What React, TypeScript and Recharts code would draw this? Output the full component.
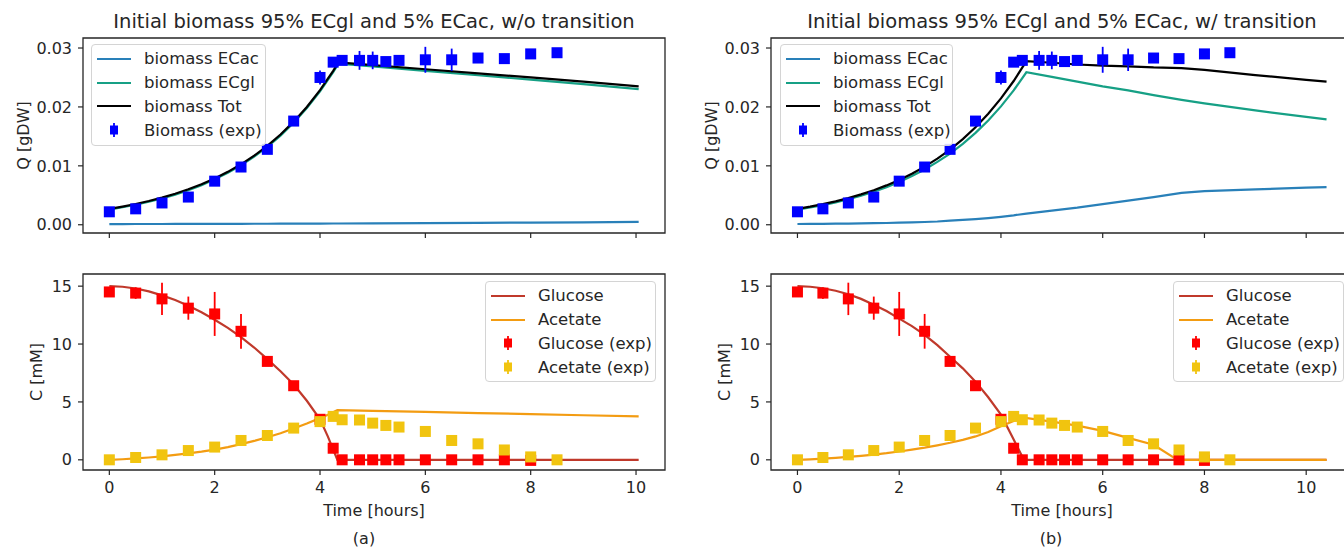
import React from "react";
import { ComposedChart, Line, Scatter, ErrorBar, XAxis, YAxis, ReferenceArea, Legend, Label } from "recharts";

const FONT = '"DejaVu Sans", sans-serif';
const INK = "#262626";

// measured points, same in (a) and (b)
const expTime = [0, 0.5, 1, 1.5, 2, 2.5, 3, 3.5, 4, 4.25, 4.42, 4.75, 5, 5.25, 5.5, 6, 6.5, 7, 7.5, 8, 8.5];
const biomassExp = [0.0022, 0.0027, 0.0037, 0.0047, 0.0074, 0.0098, 0.0128, 0.0176, 0.025, 0.0276, 0.0279, 0.0279, 0.0279, 0.0277, 0.0279, 0.028, 0.028, 0.0283, 0.0282, 0.029, 0.0292];
const biomassErr = [0.0003, 0.0003, 0.0003, 0.0003, 0.0003, 0.0003, 0.0003, 0.0003, 0.0012, 0.0003, 0.0003, 0.0016, 0.0015, 0.0003, 0.0003, 0.0022, 0.0019, 0.0003, 0.0003, 0.0003, 0.0003];
const glucoseExp = [14.5, 14.4, 13.9, 13.1, 12.6, 11.1, 8.5, 6.4, 3.5, 1.0, 0, 0, 0, 0, 0, 0, 0, 0, 0, -0.05, null];
const glucoseErr = [0.4, 0.5, 1.4, 1.0, 1.9, 1.5, 0.3, 0.3, 0.3, 0.2, 0.1, 0.1, 0.1, 0.1, 0.1, 0.1, 0.1, 0.1, 0.1, 0.1, 0];
const acetateExp = [0, 0.2, 0.43, 0.8, 1.1, 1.67, 2.1, 2.74, 3.3, 3.75, 3.46, 3.44, 3.17, 2.97, 2.83, 2.45, 1.67, 1.38, 0.85, 0.25, 0];
const acetateErr = [0.1, 0.1, 0.1, 0.15, 0.15, 0.15, 0.15, 0.15, 0.3, 0.2, 0.15, 0.15, 0.15, 0.15, 0.15, 0.2, 0.2, 0.2, 0.4, 0.2, 0.1];

// (a) w/o transition, biomass
const simTimeA = [0, 0.25, 0.5, 0.75, 1, 1.25, 1.5, 1.75, 2, 2.25, 2.5, 2.75, 3, 3.25, 3.5, 3.75, 4, 4.25, 4.35, 5, 6, 7, 8, 9, 10.05];
const ecacA = [0.00012, 0.00012, 0.00013, 0.00013, 0.00013, 0.00014, 0.00014, 0.00015, 0.00015, 0.00016, 0.00016, 0.00017, 0.00017, 0.00018, 0.00019, 0.00019, 0.0002, 0.00021, 0.00021, 0.00024, 0.00028, 0.00032, 0.00037, 0.00042, 0.00048];
const ecglA = [0.00258, 0.00297, 0.0034, 0.0039, 0.00448, 0.00512, 0.00588, 0.00672, 0.00771, 0.00882, 0.0101, 0.01156, 0.01323, 0.01513, 0.01731, 0.01981, 0.02266, 0.02591, 0.02734, 0.02686, 0.02612, 0.02538, 0.02463, 0.02388, 0.02302];
const totA = [0.0027, 0.00309, 0.00353, 0.00403, 0.00461, 0.00526, 0.00602, 0.00687, 0.00786, 0.00898, 0.01026, 0.01173, 0.0134, 0.01531, 0.0175, 0.02, 0.02286, 0.02612, 0.02755, 0.0271, 0.0264, 0.0257, 0.025, 0.0243, 0.0235];

// (b) w/ transition, biomass
const simTimeB = [0, 0.25, 0.5, 0.75, 1, 1.25, 1.5, 1.75, 2, 2.25, 2.5, 2.75, 3, 3.25, 3.5, 3.75, 4, 4.25, 4.5, 5, 5.5, 6, 6.5, 7, 7.55, 8, 9, 10, 10.4];
const ecacB = [0.00013, 0.00014, 0.00016, 0.00018, 0.0002, 0.00023, 0.00026, 0.0003, 0.00035, 0.0004, 0.00047, 0.00055, 0.0007, 0.00082, 0.00096, 0.00114, 0.00135, 0.0016, 0.0019, 0.0024, 0.0029, 0.0035, 0.0041, 0.0047, 0.0054, 0.0057, 0.006, 0.0063, 0.0064];
const ecglB = [0.00257, 0.00293, 0.00334, 0.0038, 0.00433, 0.00493, 0.00561, 0.00638, 0.00726, 0.00826, 0.00939, 0.01067, 0.01207, 0.01372, 0.01559, 0.0177, 0.02009, 0.0228, 0.02588, 0.0251, 0.0243, 0.0235, 0.0228, 0.022, 0.0212, 0.0206, 0.0194, 0.0183, 0.0179];
const totB = [0.0027, 0.00307, 0.0035, 0.00398, 0.00453, 0.00516, 0.00587, 0.00668, 0.00761, 0.00866, 0.00986, 0.01122, 0.01277, 0.01454, 0.01655, 0.01884, 0.02144, 0.0244, 0.02778, 0.0275, 0.0272, 0.027, 0.0269, 0.0267, 0.0266, 0.0263, 0.0254, 0.0246, 0.0243];

// (a) concentrations
const concTimeA = [0, 0.25, 0.5, 0.75, 1, 1.25, 1.5, 1.75, 2, 2.25, 2.5, 2.75, 3, 3.25, 3.5, 3.75, 4, 4.15, 4.33, 5, 6, 7, 8, 9, 10.05];
const glucoseA = [15, 14.95, 14.8, 14.55, 14.2, 13.8, 13.3, 12.75, 12.1, 11.4, 10.6, 9.7, 8.7, 7.65, 6.5, 5.1, 3.5, 2.0, 0, 0, 0, 0, 0, 0, 0];
const acetateA = [0, 0.05, 0.12, 0.2, 0.3, 0.42, 0.55, 0.7, 0.88, 1.1, 1.35, 1.63, 1.95, 2.3, 2.7, 3.13, 3.6, 3.9, 4.3, 4.23, 4.14, 4.04, 3.95, 3.85, 3.75];

// (b) concentrations
const concTimeB = [0, 0.25, 0.5, 0.75, 1, 1.25, 1.5, 1.75, 2, 2.25, 2.5, 2.75, 3, 3.25, 3.5, 3.75, 4, 4.25, 4.45, 5, 5.5, 6, 6.5, 7, 7.47, 8, 9, 10, 10.4];
const glucoseB = [15, 14.95, 14.82, 14.6, 14.3, 13.9, 13.4, 12.85, 12.2, 11.55, 10.8, 9.9, 8.9, 7.9, 6.75, 5.4, 3.9, 1.75, 0, 0, 0, 0, 0, 0, 0, 0, 0, 0, 0];
const acetateB = [0, 0.04, 0.1, 0.17, 0.25, 0.34, 0.45, 0.57, 0.72, 0.88, 1.05, 1.25, 1.47, 1.72, 2.02, 2.4, 2.9, 3.35, 3.65, 3.3, 2.95, 2.5, 1.9, 1.3, 0, 0, 0, 0, 0];

const xTicks = [0, 2, 4, 6, 8, 10];
const qTicks = [0, 0.01, 0.02, 0.03];
const cTicks = [0, 5, 10, 15];

const C = {
  ecac: "#2980b9",
  ecgl: "#16a085",
  tot: "#000000",
  biomass: "#0000ff",
  glucose: "#c0392b",
  acetate: "#f39c12",
  glucoseExp: "#ff0000",
  acetateExp: "#f1c40f",
};

const rows = (t: number[], cols: Record<string, number[]>) =>
  t.map((x, i) => {
    const r: any = { t: x };
    for (const k in cols) r[k] = cols[k][i];
    return r;
  });

const points = (v: (number | null)[], e: number[]) =>
  expTime.map((t, i) => ({ t, v: v[i], e: e[i] })).filter((p) => p.v !== null);

type LegendItem = { label: string; color: string; marker?: boolean };

const biomassLegend: LegendItem[] = [
  { label: "biomass ECac", color: C.ecac },
  { label: "biomass ECgl", color: C.ecgl },
  { label: "biomass Tot", color: C.tot },
  { label: "Biomass (exp)", color: C.biomass, marker: true },
];
const concLegend: LegendItem[] = [
  { label: "Glucose", color: C.glucose },
  { label: "Acetate", color: C.acetate },
  { label: "Glucose (exp)", color: C.glucoseExp, marker: true },
  { label: "Acetate (exp)", color: C.acetateExp, marker: true },
];

const LegendBox = ({ items }: { items: LegendItem[] }) => (
  <div
    style={{
      boxSizing: "border-box",
      width: "100%",
      height: "100%",
      border: "1px solid #d4d4d4",
      borderRadius: 4,
      background: "rgba(255,255,255,0.85)",
      padding: "2px 0 0 5px",
      fontFamily: FONT,
      fontSize: 16.5,
      color: INK,
      whiteSpace: "nowrap",
    }}
  >
    {items.map((it) => (
      <div key={it.label} style={{ display: "flex", alignItems: "center", height: 23.8 }}>
        <svg width={47} height={20} style={{ flex: "none" }}>
          {it.marker ? (
            <g>
              <line x1={17} x2={17} y1={3} y2={17} stroke={it.color} strokeWidth={1.8} />
              <rect x={13} y={5.5} width={8} height={9} fill={it.color} />
            </g>
          ) : (
            <line x1={0} x2={34} y1={10} y2={10} stroke={it.color} strokeWidth={2.2} />
          )}
        </svg>
        <span>{it.label}</span>
      </div>
    ))}
  </div>
);

type SeriesLine = { key: string; color: string };
type SeriesPts = { data: any[]; color: string };

type PanelProps = {
  left: number;
  top: number;
  height: number;
  marginTop: number;
  marginRight: number;
  yWidth: number;
  xHeight: number;
  xDomain: [number, number];
  yDomain: [number, number];
  yTicks: number[];
  yFmt: (v: number) => string;
  yLabel: string;
  yLabelX: number;
  xLabel?: string;
  table: any[];
  lines: SeriesLine[];
  pts: SeriesPts[];
  legend: LegendItem[];
  legendBox: { left: number; top: number; width: number; height: number };
};

const Panel = (p: PanelProps) => {
  const tickStyle = { fill: INK, fontSize: 16, fontFamily: FONT };
  return (
    <div style={{ position: "absolute", left: p.left, top: p.top }}>
      <ComposedChart
        width={690}
        height={p.height}
        data={p.table}
        margin={{ top: p.marginTop, right: p.marginRight, left: 0, bottom: 0 }}
      >
        <XAxis
          type="number"
          dataKey="t"
          domain={p.xDomain}
          ticks={xTicks}
          interval={0}
          allowDataOverflow
          axisLine={false}
          tickSize={5}
          tickMargin={7}
          tickLine={{ stroke: INK, strokeWidth: 1.2 }}
          tick={tickStyle}
          tickFormatter={p.xLabel ? (v: number) => String(v) : () => ""}
          height={p.xHeight}
        >
          {p.xLabel && (
            <Label
              value={p.xLabel}
              position="insideBottom"
              offset={33}
              style={{ fill: INK, fontSize: 16, fontFamily: FONT }}
            />
          )}
        </XAxis>
        <YAxis
          type="number"
          domain={p.yDomain}
          ticks={p.yTicks}
          interval={0}
          allowDataOverflow
          axisLine={false}
          width={p.yWidth}
          tickSize={5}
          tickMargin={6}
          tickLine={{ stroke: INK, strokeWidth: 1.2 }}
          tick={tickStyle}
          tickFormatter={p.yFmt}
        >
          <Label
            value={p.yLabel}
            angle={-90}
            position="insideLeft"
            offset={p.yLabelX}
            style={{ textAnchor: "middle", fill: INK, fontSize: 16, fontFamily: FONT }}
          />
        </YAxis>
        {p.lines.map((l) => (
          <Line
            key={l.key}
            type="linear"
            dataKey={l.key}
            stroke={l.color}
            strokeWidth={2.2}
            dot={false}
            activeDot={false}
            isAnimationActive={false}
          />
        ))}
        {p.pts.map((s, i) => (
          <Scatter
            key={i}
            data={s.data}
            dataKey="v"
            fill={s.color}
            isAnimationActive={false}
            shape={(sp: any) => (
              <rect x={sp.cx - 5.5} y={sp.cy - 5.5} width={11} height={11} fill={s.color} />
            )}
          >
            <ErrorBar dataKey="e" direction="y" width={0} stroke={s.color} strokeWidth={1.8} />
          </Scatter>
        ))}
        <ReferenceArea
          x1={p.xDomain[0]}
          x2={p.xDomain[1]}
          y1={p.yDomain[0]}
          y2={p.yDomain[1]}
          fill="none"
          fillOpacity={0}
          stroke={INK}
          strokeWidth={1.3}
        />
        <Legend
          layout="vertical"
          align="center"
          verticalAlign="middle"
          wrapperStyle={{ ...p.legendBox }}
          content={() => <LegendBox items={p.legend} />}
        />
      </ComposedChart>
    </div>
  );
};

const titleStyle = (left: number, width: number): React.CSSProperties => ({
  position: "absolute",
  left,
  width,
  top: 10,
  textAlign: "center",
  fontFamily: FONT,
  fontSize: 19.5,
  lineHeight: "24px",
  color: INK,
  whiteSpace: "nowrap",
});

const captionStyle = (cx: number): React.CSSProperties => ({
  position: "absolute",
  left: cx - 30,
  width: 60,
  top: 529,
  textAlign: "center",
  fontFamily: FONT,
  fontSize: 16,
  lineHeight: "20px",
  color: INK,
});

export default function App() {
  const qFmt = (v: number) => v.toFixed(2);
  const cFmt = (v: number) => String(v);
  const bioLines = [
    { key: "ecac", color: C.ecac },
    { key: "ecgl", color: C.ecgl },
    { key: "tot", color: C.tot },
  ];
  const concLines = [
    { key: "glucose", color: C.glucose },
    { key: "acetate", color: C.acetate },
  ];
  const bioPts = [{ data: points(biomassExp, biomassErr), color: C.biomass }];
  const concPts = [
    { data: points(glucoseExp, glucoseErr), color: C.glucoseExp },
    { data: points(acetateExp, acetateErr), color: C.acetateExp },
  ];

  return (
    <div
      style={{
        position: "absolute",
        left: 0,
        top: 0,
        width: 1344,
        height: 549,
        overflow: "hidden",
        background: "#fff",
      }}
    >
      <div style={titleStyle(83, 582)}>Initial biomass 95% ECgl and 5% ECac, w/o transition</div>
      <div style={titleStyle(771, 582)}>Initial biomass 95% ECgl and 5% ECac, w/ transition</div>

      <Panel
        left={0}
        top={0}
        height={250}
        marginTop={38}
        marginRight={25}
        yWidth={83}
        xHeight={17}
        xDomain={[-0.5, 10.55]}
        yDomain={[-0.0014, 0.0317]}
        yTicks={qTicks}
        yFmt={qFmt}
        yLabel="Q [gDW]"
        yLabelX={23}
        table={rows(simTimeA, { ecac: ecacA, ecgl: ecglA, tot: totA })}
        lines={bioLines}
        pts={bioPts}
        legend={biomassLegend}
        legendBox={{ left: 91, top: 44, width: 175, height: 102 }}
      />
      <Panel
        left={690}
        top={0}
        height={250}
        marginTop={38}
        marginRight={27}
        yWidth={81}
        xHeight={17}
        xDomain={[-0.52, 10.92]}
        yDomain={[-0.0014, 0.0317]}
        yTicks={qTicks}
        yFmt={qFmt}
        yLabel="Q [gDW]"
        yLabelX={21}
        table={rows(simTimeB, { ecac: ecacB, ecgl: ecglB, tot: totB })}
        lines={bioLines}
        pts={bioPts}
        legend={biomassLegend}
        legendBox={{ left: 90, top: 44, width: 173, height: 102 }}
      />
      <Panel
        left={0}
        top={250}
        height={299}
        marginTop={24}
        marginRight={25}
        yWidth={83}
        xHeight={79}
        xDomain={[-0.5, 10.55]}
        yDomain={[-0.88, 16.05]}
        yTicks={cTicks}
        yFmt={cFmt}
        yLabel="C [mM]"
        yLabelX={36}
        xLabel="Time [hours]"
        table={rows(concTimeA, { glucose: glucoseA, acetate: acetateA })}
        lines={concLines}
        pts={concPts}
        legend={concLegend}
        legendBox={{ left: 485, top: 31, width: 171, height: 101 }}
      />
      <Panel
        left={690}
        top={250}
        height={299}
        marginTop={24}
        marginRight={27}
        yWidth={81}
        xHeight={79}
        xDomain={[-0.52, 10.92]}
        yDomain={[-0.88, 16.05]}
        yTicks={cTicks}
        yFmt={cFmt}
        yLabel="C [mM]"
        yLabelX={34}
        xLabel="Time [hours]"
        table={rows(concTimeB, { glucose: glucoseB, acetate: acetateB })}
        lines={concLines}
        pts={concPts}
        legend={concLegend}
        legendBox={{ left: 483, top: 31, width: 171, height: 101 }}
      />

      <div style={captionStyle(364)}>(a)</div>
      <div style={captionStyle(1051)}>(b)</div>
    </div>
  );
}
